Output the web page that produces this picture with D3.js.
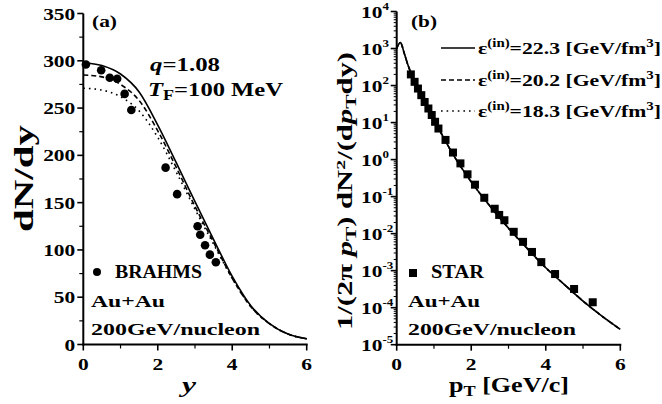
<!DOCTYPE html>
<html>
<head>
<meta charset="utf-8">
<script src="https://cdn.jsdelivr.net/npm/d3@7/dist/d3.min.js"></script>
<style>
  html, body { margin: 0; padding: 0; background: #fff; }
  svg text { font-family: "Liberation Serif", "Times New Roman", serif; font-weight: bold; fill: #000; }
</style>
</head>
<body>
<svg id="chart" width="662" height="404"></svg>
<script>
// ---- Panel (a): rapidity distribution dN/dy ----
const rapidity = [0, 0.5, 1.0, 1.5, 2.0, 2.5, 3.0, 3.5, 4.0, 4.5, 5.0, 5.5, 6.0];
const dndyEps223 = [298, 295, 286, 267, 232, 192, 151, 111, 72, 41, 22, 11, 6];
const dndyEps202 = [285, 283, 275, 258, 226, 187, 146, 108, 70, 40, 22, 11, 6];
const dndyEps183 = [271, 269, 262, 247, 219, 182, 143, 106, 70, 40, 22, 11, 6];

const brahmsY = [0.07, 0.48, 0.71, 0.91, 1.11, 1.29, 2.21, 2.52, 3.07, 3.14, 3.27, 3.40, 3.56];
const brahmsDndy = [296, 290, 282, 281, 265, 248, 187, 159, 125, 116, 105, 95, 87];

// ---- Panel (b): transverse momentum spectrum ----
const ptGrid = [0, 0.1, 0.2, 0.3, 0.4, 0.6, 0.8, 1.0, 1.2, 1.5, 2.0, 2.5, 3.0, 3.5, 4.0, 4.5, 5.0, 5.5, 6.0];
const spectrumModel = [1000, 1450, 760, 363, 200, 76, 30, 12, 5.0, 1.45, 0.25, 0.056, 0.0141, 0.0040, 0.0012, 0.00042, 0.000151, 0.000060, 0.000026];

const starPt = [0.38, 0.48, 0.57, 0.66, 0.75, 0.85, 0.94, 1.03, 1.12, 1.31, 1.51, 1.71, 1.90, 2.10, 2.35, 2.63, 2.75, 2.89, 3.14, 3.39, 3.63, 3.88, 4.25, 4.76, 5.26];
const starYield = [200, 126, 83, 55, 36, 24, 16, 10.5, 6.9, 3.4, 1.55, 0.79, 0.40, 0.21, 0.093, 0.047, 0.032, 0.023, 0.0112, 0.0060, 0.0032, 0.0017, 0.00081, 0.00032, 0.00014];

// ---- Axis ticks ----
const xTicksMajor = [0, 2, 4, 6];
const xTicksMinor = [1, 3, 5];
const dndyTicksMajor = [0, 50, 100, 150, 200, 250, 300, 350];
const dndyTicksMinor = [25, 75, 125, 175, 225, 275, 325];
const logDecades = [-5, -4, -3, -2, -1, 0, 1, 2, 3, 4];
const epsValues = ["22.3", "20.2", "18.3"];

const svg = d3.select("#chart");
const SX = 1.3; // horizontal stretch of the tick lettering

// Tick-style label, widened by SX
function tickText(g, x, y, size, anchor) {
  return g.append("text")
    .attr("transform", `translate(${x},${y}) scale(${SX},1)`)
    .style("font-size", size + "px")
    .attr("text-anchor", anchor || "start");
}
// Annotation fitted to a given run length
function fitText(g, x, y, size, len, opts = {}) {
  const t = g.append("text").attr("x", x).attr("y", y)
    .style("font-size", size + "px")
    .attr("textLength", len).attr("lengthAdjust", "spacingAndGlyphs");
  if (opts.italic) t.style("font-style", "italic");
  return t;
}

function drawXAxis(g, x, y0) {
  const ax = g.append("g").attr("stroke", "#000");
  ax.append("line").attr("x1", x.range()[0] - 1).attr("x2", x.range()[1] + 1)
    .attr("y1", y0).attr("y2", y0).attr("stroke-width", 2);
  xTicksMajor.forEach(v => ax.append("line").attr("x1", x(v)).attr("x2", x(v))
    .attr("y1", y0).attr("y2", y0 + 6).attr("stroke-width", 1.6));
  xTicksMinor.forEach(v => ax.append("line").attr("x1", x(v)).attr("x2", x(v))
    .attr("y1", y0).attr("y2", y0 + 4).attr("stroke-width", 1.2));
  xTicksMajor.forEach(v => tickText(g, x(v), y0 + 25, 16.5, "middle").text(v));
}

// ====== Panel (a) ======
const xa = d3.scaleLinear().domain([0, 6]).range([83.3, 306.7]);
const ya = d3.scaleLinear().domain([0, 350]).range([344.5, 13.5]);
const ga = svg.append("g");

drawXAxis(ga, xa, ya(0));
{
  const ax = ga.append("g").attr("stroke", "#000");
  ax.append("line").attr("x1", xa(0)).attr("x2", xa(0))
    .attr("y1", ya(0) + 1).attr("y2", ya(350)).attr("stroke-width", 2);
  dndyTicksMajor.forEach(v => ax.append("line").attr("x1", xa(0) - 6).attr("x2", xa(0))
    .attr("y1", ya(v)).attr("y2", ya(v)).attr("stroke-width", 1.6));
  dndyTicksMinor.forEach(v => ax.append("line").attr("x1", xa(0) - 4).attr("x2", xa(0))
    .attr("y1", ya(v)).attr("y2", ya(v)).attr("stroke-width", 1.2));
  dndyTicksMajor.forEach(v => tickText(ga, xa(0) - 8, ya(v) + 6, 16.5, "end").text(v));
}

const lineA = data => d3.line().curve(d3.curveMonotoneX)
  .x((d, i) => xa(rapidity[i])).y(d => ya(d))(data);

ga.append("path").attr("d", lineA(dndyEps183)).attr("fill", "none")
  .attr("stroke", "#000").attr("stroke-width", 1.6).attr("stroke-dasharray", "1.6,4");
ga.append("path").attr("d", lineA(dndyEps202)).attr("fill", "none")
  .attr("stroke", "#000").attr("stroke-width", 1.6).attr("stroke-dasharray", "5,3");
ga.append("path").attr("d", lineA(dndyEps223)).attr("fill", "none")
  .attr("stroke", "#000").attr("stroke-width", 1.6);

ga.selectAll("circle.brahms").data(brahmsY).join("circle").attr("class", "brahms")
  .attr("cx", d => xa(d)).attr("cy", (d, i) => ya(brahmsDndy[i])).attr("r", 4.3).attr("fill", "#000");

fitText(ga, 92, 27, 17, 25).text("(a)");
{
  const t = fitText(ga, 150, 71, 19, 70);
  t.append("tspan").style("font-style", "italic").text("q");
  t.append("tspan").text("=1.08");
  const t2 = fitText(ga, 148, 96, 19, 135);
  t2.append("tspan").style("font-style", "italic").text("T");
  t2.append("tspan").attr("dy", 4).style("font-size", "14px").text("F");
  t2.append("tspan").attr("dy", -4).text("=100 MeV");
}
ga.append("circle").attr("cx", 97).attr("cy", 272).attr("r", 4).attr("fill", "#000");
fitText(ga, 115, 278, 18.5, 87).text("BRAHMS");
fitText(ga, 91, 307, 17.5, 74).text("Au+Au");
fitText(ga, 91, 335, 17.5, 169).text("200GeV/nucleon");
fitText(ga, 182, 392, 21, 14, { italic: true }).text("y");
ga.append("text")
  .attr("transform", "translate(33,232) rotate(-90)")
  .attr("textLength", 107).attr("lengthAdjust", "spacingAndGlyphs")
  .style("font-size", "27px").text("dN/dy");

// ====== Panel (b) ======
const xb = d3.scaleLinear().domain([0, 6]).range([396.7, 620.3]);
const yb = d3.scaleLog().domain([1e-5, 1e4]).range([344.7, 11.5]);
const gb = svg.append("g");
drawXAxis(gb, xb, yb(1e-5));
{
  const ax = gb.append("g").attr("stroke", "#000");
  ax.append("line").attr("x1", xb(0)).attr("x2", xb(0))
    .attr("y1", yb(1e-5) + 1).attr("y2", yb(1e4)).attr("stroke-width", 2);
  logDecades.forEach(k => {
    const v = Math.pow(10, k);
    ax.append("line").attr("x1", xb(0) - 6).attr("x2", xb(0))
      .attr("y1", yb(v)).attr("y2", yb(v)).attr("stroke-width", 1.6);
    if (k < 4) {
      for (let m = 2; m <= 9; m++) {
        ax.append("line").attr("x1", xb(0) - 3).attr("x2", xb(0))
          .attr("y1", yb(m * v)).attr("y2", yb(m * v)).attr("stroke-width", 1);
      }
    }
    const t = tickText(gb, 361, yb(v) + 6, 16.5);
    t.append("tspan").text("10");
    t.append("tspan").attr("dy", -8).style("font-size", "10px").text(k);
  });
}

const lineB = d3.line().curve(d3.curveMonotoneX)
  .x((d, i) => xb(ptGrid[i])).y(d => yb(d));
gb.append("path").attr("d", lineB(spectrumModel)).attr("fill", "none")
  .attr("stroke", "#000").attr("stroke-width", 1.6).attr("stroke-dasharray", "1.6,4");
gb.append("path").attr("d", lineB(spectrumModel)).attr("fill", "none")
  .attr("stroke", "#000").attr("stroke-width", 1.6).attr("stroke-dasharray", "5,3");
gb.append("path").attr("d", lineB(spectrumModel)).attr("fill", "none")
  .attr("stroke", "#000").attr("stroke-width", 1.6);

gb.selectAll("rect.star").data(starPt).join("rect").attr("class", "star")
  .attr("x", d => xb(d) - 4).attr("y", (d, i) => yb(starYield[i]) - 4)
  .attr("width", 8).attr("height", 8).attr("fill", "#000");

fitText(gb, 411, 27, 17, 26).text("(b)");

// legend
const legendDash = [null, "5,3", "1.6,4"];
const legendY = [48, 80, 111];
epsValues.forEach((eps, i) => {
  const l = gb.append("line").attr("x1", 441).attr("x2", 475)
    .attr("y1", legendY[i]).attr("y2", legendY[i])
    .attr("stroke", "#000").attr("stroke-width", 1.6);
  if (legendDash[i]) l.attr("stroke-dasharray", legendDash[i]);
  const t = fitText(gb, 478, legendY[i] + 6, 17.5, 183);
  t.append("tspan").text("ε");
  t.append("tspan").attr("dy", -7).style("font-size", "12px").text("(in)");
  t.append("tspan").attr("dy", 7).text(`=${eps} [GeV/fm`);
  t.append("tspan").attr("dy", -7).style("font-size", "12px").text("3");
  t.append("tspan").attr("dy", 7).text("]");
});

gb.append("rect").attr("x", 409).attr("y", 269).attr("width", 8).attr("height", 8).attr("fill", "#000");
fitText(gb, 431, 278, 18.5, 53).text("STAR");
fitText(gb, 408, 307, 17.5, 72).text("Au+Au");
fitText(gb, 408, 335, 17.5, 168).text("200GeV/nucleon");
{
  const t = fitText(gb, 449, 392, 20, 120);
  t.append("tspan").text("p");
  t.append("tspan").attr("dy", 4).style("font-size", "14px").text("T");
  t.append("tspan").attr("dy", -4).text(" [GeV/c]");
}
{
  const t = gb.append("text")
    .attr("transform", "translate(352,330) rotate(-90)")
    .attr("textLength", 278).attr("lengthAdjust", "spacingAndGlyphs")
    .style("font-size", "20px");
  t.append("tspan").text("1/(2π ");
  t.append("tspan").style("font-style", "italic").text("p");
  t.append("tspan").attr("dy", 4).style("font-size", "14px").text("T");
  t.append("tspan").attr("dy", -4).text(") dN");
  t.append("tspan").attr("dy", -7).style("font-size", "13px").text("2");
  t.append("tspan").attr("dy", 7).text("/(d");
  t.append("tspan").style("font-style", "italic").text("p");
  t.append("tspan").attr("dy", 4).style("font-size", "14px").text("T");
  t.append("tspan").attr("dy", -4).text("dy)");
}
</script>
</body>
</html>
